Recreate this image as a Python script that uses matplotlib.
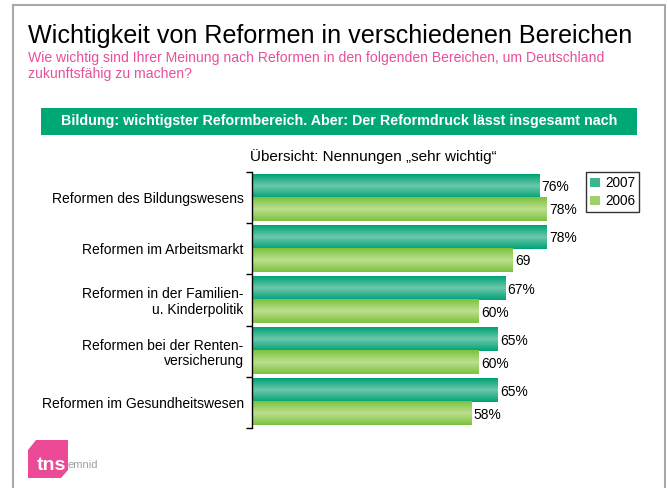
import matplotlib
matplotlib.use("Agg")
import matplotlib.pyplot as plt
import numpy as np
from matplotlib.patches import Rectangle, Polygon, Patch
from matplotlib.colors import LinearSegmentedColormap

plt.rcParams['font.family'] = ['Liberation Sans', 'DejaVu Sans']

categories = ["Reformen des Bildungswesens",
              "Reformen im Arbeitsmarkt",
              "Reformen in der Familien-\nu. Kinderpolitik",
              "Reformen bei der Renten-\nversicherung",
              "Reformen im Gesundheitswesen"]
values_2007 = [76, 78, 67, 65, 65]
values_2006 = [78, 69, 60, 60, 58]
labels_2007 = ["76%", "78%", "67%", "65%", "65%"]
labels_2006 = ["78%", "69", "60%", "60%", "58%"]
years = ["2007", "2006"]

W, H = 668, 488
fig = plt.figure(figsize=(W / 100, H / 100), dpi=100)

def fx(px):
    return px / W

def fy(py):
    return 1 - py / H

# slide frame
fig.patches.append(Rectangle((fx(13), fy(500)), fx(665) - fx(13), fy(5) - fy(500),
                             transform=fig.transFigure, fill=False,
                             edgecolor="#a8a8a8", lw=1.5))

fig.text(fx(28), fy(36), "Wichtigkeit von Reformen in verschiedenen Bereichen",
         fontsize=18.1, va="center", ha="left", color="black")
fig.text(fx(28), fy(58), "Wie wichtig sind Ihrer Meinung nach Reformen in den folgenden Bereichen, um Deutschland",
         fontsize=10.1, va="center", ha="left", color="#e8509a")
fig.text(fx(28), fy(74), "zukunftsfähig zu machen?",
         fontsize=10.1, va="center", ha="left", color="#e8509a")

# green banner
fig.patches.append(Rectangle((fx(41), fy(135)), fx(637) - fx(41), fy(108) - fy(135),
                             transform=fig.transFigure, color="#00a876", lw=0))
fig.text(fx(339), fy(121.5),
         "Bildung: wichtigster Reformbereich. Aber: Der Reformdruck lässt insgesamt nach",
         fontsize=10.3, fontweight="bold", color="white", ha="center", va="center")

fig.text(fx(250), fy(157), "Übersicht: Nennungen „sehr wichtig“",
         fontsize=11, ha="left", va="center")

ax = fig.add_axes([fx(252), fy(428), fx(630) - fx(252), fy(172) - fy(428)])

cm07 = LinearSegmentedColormap.from_list("c07", ["#00a277", "#6cc8aa", "#00a277"])
cm06 = LinearSegmentedColormap.from_list("c06", ["#7cc23e", "#bcdf8f", "#7cc23e"])
grad = np.linspace(0, 1, 64).reshape(-1, 1)
bh = 0.45
y = np.arange(len(categories))

for i in range(len(categories)):
    for off, val, cmap, lab in [(-bh / 2, values_2007[i], cm07, labels_2007[i]),
                                (bh / 2, values_2006[i], cm06, labels_2006[i])]:
        yc = y[i] + off
        ax.imshow(grad, cmap=cmap, aspect="auto",
                  extent=[0, val, yc + bh / 2, yc - bh / 2], zorder=2)
        ax.text(val + 0.6, yc + 0.02, lab, fontsize=9.9, va="center", ha="left")

ax.set_xlim(0, 100)
ax.set_ylim(4.5, -0.5)

for s in ["top", "right", "bottom"]:
    ax.spines[s].set_visible(False)
ax.spines["left"].set_linewidth(1.0)
ax.set_xticks([])
ax.set_yticks(y)
ax.set_yticklabels(categories, fontsize=10.0, linespacing=1.15)
ax.tick_params(axis="y", which="major", length=0, pad=6)
ax.set_yticks(np.arange(-0.5, 5, 1), minor=True)
ax.tick_params(axis="y", which="minor", length=4, width=1)
ax.set_facecolor("none")

handles = [Patch(facecolor="#3bb68e", edgecolor="none"),
           Patch(facecolor="#9fd16a", edgecolor="none")]
leg = fig.legend(handles, years, loc="upper left",
                 bbox_to_anchor=(fx(586), fy(172)), fontsize=9.8,
                 frameon=True, fancybox=False, handlelength=0.7, handleheight=0.7,
                 handletextpad=0.4, borderpad=0.3, labelspacing=0.3, borderaxespad=0)
leg.get_frame().set_edgecolor("black")
leg.get_frame().set_linewidth(1.0)

# logo
logo = [(28, 450), (36, 440), (68, 440), (68, 470), (61, 478), (28, 478)]
fig.patches.append(Polygon([(fx(a), fy(b)) for a, b in logo], closed=True,
                           transform=fig.transFigure, color="#ec4a97", lw=0))
fig.text(fx(37), fy(466), "tns", fontsize=14, fontweight="bold", color="white",
         ha="left", va="center")
fig.text(fx(68), fy(465), "emnid", fontsize=8, color="#a0a0a0", ha="left", va="center")

fig.savefig("out.png", dpi=100)
